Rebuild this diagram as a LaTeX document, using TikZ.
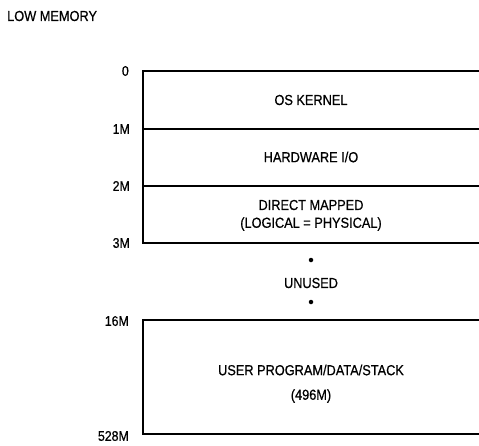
\documentclass[tikz,border=0pt]{standalone}
\usepackage{fontspec}
\setmainfont{Liberation Sans}[FakeStretch=0.88,FakeBold=0.6]
\begin{document}
\begin{tikzpicture}[x=1pt,y=-1pt,
  txt/.style={font=\fontsize{14.5}{17}\selectfont, inner sep=0pt, align=center},
  addr/.style={font=\fontsize{14}{16}\selectfont, inner sep=0pt, anchor=east},
  border/.style={line width=2pt, line cap=rect},
  sep/.style={line width=1.5pt},
  dot/.style={circle, fill=black, inner sep=0pt, minimum size=4.5pt}]
\useasboundingbox (0,0) rectangle (479,445);
% boundary coordinates
\coordinate (t0L) at (143,71);  \coordinate (t0R) at (479,71);
\coordinate (t1L) at (143,129); \coordinate (t1R) at (479,129);
\coordinate (t2L) at (143,186); \coordinate (t2R) at (479,186);
\coordinate (t3L) at (143,243); \coordinate (t3R) at (479,243);
\coordinate (b0L) at (143,320); \coordinate (b0R) at (479,320);
\coordinate (b1L) at (143,434); \coordinate (b1R) at (479,434);
% boxes
\draw[border] (t0R) -- (t0L) -- (t3L) -- (t3R);
\draw[sep] (t1L) -- (t1R);
\draw[sep] (t2L) -- (t2R);
\draw[border] (b0R) -- (b0L) -- (b1L) -- (b1R);
% title
\node[txt, anchor=west] (title) at (7,16) {LOW MEMORY};
% address labels
\node[addr] (a0) at (129,71) {0};
\node[addr] (a1) at (130,129) {1M};
\node[addr] (a2) at (130,186) {2M};
\node[addr] (a3) at (130,243) {3M};
\node[addr] (a16) at (129,321) {16M};
\node[addr] (a528) at (129,436) {528M};
% region texts
\node[txt] (kernel) at (311,100) {OS KERNEL};
\node[txt] (hwio) at (311,157) {HARDWARE I/O};
\node[txt] (dm1) at (311,205) {DIRECT MAPPED};
\node[txt] (dm2) at (311,224) {(LOGICAL = PHYSICAL)};
\node[dot] (d1) at (311,260) {};
\node[txt] (unused) at (311,283) {UNUSED};
\node[dot] (d2) at (311,302) {};
\node[txt] (user1) at (311,370) {USER PROGRAM/DATA/STACK};
\node[txt] (user2) at (311,396) {(496M)};
\end{tikzpicture}
\end{document}
